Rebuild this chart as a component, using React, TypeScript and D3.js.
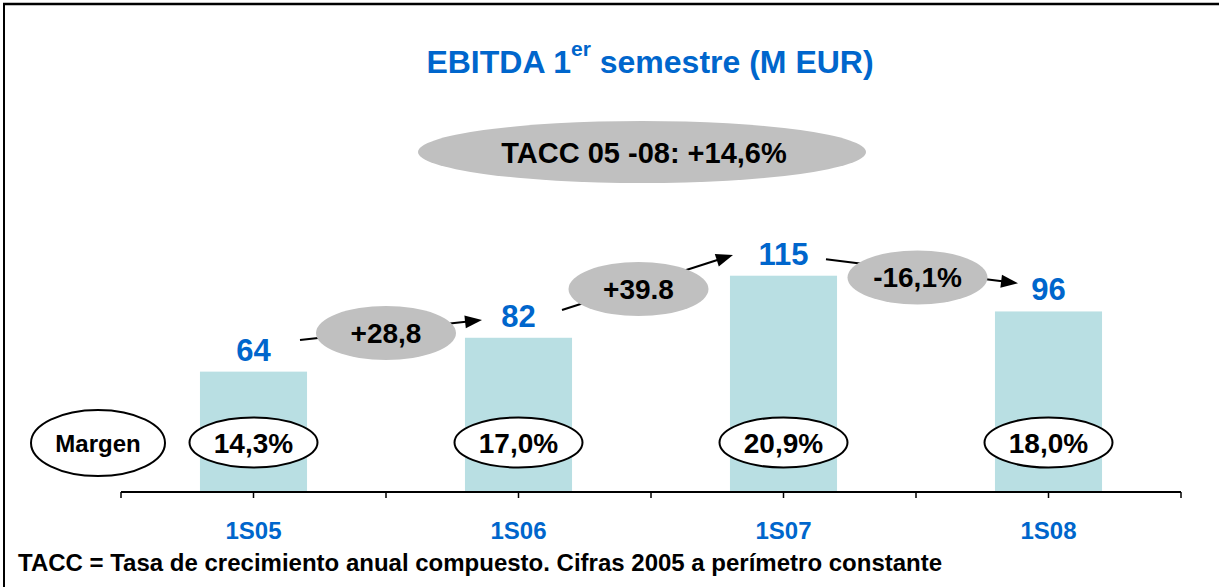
import React from "react";
import * as d3 from "d3";

const categories = ["1S05", "1S06", "1S07", "1S08"];
const ebitda = [64, 82, 115, 96];
const margins = ["14,3%", "17,0%", "20,9%", "18,0%"];
const growthLabels = ["+28,8", "+39.8", "-16,1%"];
const cagrLabel = "TACC 05 -08: +14,6%";
const footnote = "TACC = Tasa de crecimiento anual compuesto. Cifras 2005 a perímetro constante";

// layout tweaks for the growth arrows (offsets from bar centres / bar tops)
const arrowLayout = [
  { x0: 46.5, y0: -31.6, x1: -36.5, y1: -17.8, edx: 0, edy: -21.7 },
  { x0: 43.5, y0: -27.8, x1: -50.5, y1: -20.7, edx: -12.5, edy: -17.7 },
  { x0: 42.5, y0: -16.4, x1: -30.5, y1: -28.1, edx: 1.5, edy: -16.1 },
];

const W = 1219;
const H = 587;
const FONT = "'Liberation Sans', Arial, Helvetica, sans-serif";
const BLUE = "#0066CC";
const BAR = "#B9DFE3";
const GREY = "#C0C0C0";

export default function App() {
  const axisY = 492;
  const x = d3
    .scaleBand<string>()
    .domain(categories)
    .range([121, 1181])
    .paddingInner(0.596)
    .paddingOuter(0.298);
  const y = d3.scaleLinear().domain([0, 260]).range([axisY, 3]);
  const cx = (c: string) => (x(c) as number) + x.bandwidth() / 2;

  const step = x.step();
  const tickXs: number[] = [];
  for (let i = 0; i <= categories.length * 2; i++) tickXs.push(121 + (i * step) / 2);

  const arrowHead = (x0: number, y0: number, x1: number, y1: number) => {
    const a = Math.atan2(y1 - y0, x1 - x0);
    const len = 17;
    const hw = 6.5;
    const bx = x1 - len * Math.cos(a);
    const by = y1 - len * Math.sin(a);
    const px = -Math.sin(a) * hw;
    const py = Math.cos(a) * hw;
    return `${x1},${y1} ${bx + px},${by + py} ${bx - px},${by - py}`;
  };

  const marginY = 442.5;

  return (
    <svg
      width={W}
      height={H}
      style={{ position: "absolute", left: 0, top: 0, background: "#fff" }}
      fontFamily={FONT}
      fontWeight="bold"
    >
      <rect x={0} y={0} width={W} height={H} fill="#fff" />
      {/* frame */}
      <line x1={3} x2={W} y1={4} y2={4} stroke="#000" strokeWidth={2.5} />
      <line x1={4} x2={4} y1={3} y2={H} stroke="#000" strokeWidth={2} />

      {/* title */}
      <text x={650} y={73} textAnchor="middle" fill={BLUE} fontSize={32}>
        EBITDA 1<tspan fontSize={21} dy={-17}>er</tspan>
        <tspan dy={17}> semestre (M EUR)</tspan>
      </text>

      {/* CAGR ellipse */}
      <ellipse cx={642} cy={152} rx={224} ry={31} fill={GREY} />
      <text x={644} y={162.5} textAnchor="middle" fontSize={29} fill="#000">
        {cagrLabel}
      </text>

      {/* bars */}
      {categories.map((c, i) => (
        <rect
          key={c}
          x={x(c)}
          y={y(ebitda[i])}
          width={x.bandwidth()}
          height={axisY - y(ebitda[i])}
          fill={BAR}
        />
      ))}

      {/* value labels */}
      {categories.map((c, i) => (
        <text
          key={c}
          x={cx(c)}
          y={y(ebitda[i]) - 11}
          textAnchor="middle"
          fill={BLUE}
          fontSize={31}
        >
          {ebitda[i]}
        </text>
      ))}

      {/* growth arrows */}
      {growthLabels.map((g, i) => {
        const a = arrowLayout[i];
        const c0 = cx(categories[i]);
        const c1 = cx(categories[i + 1]);
        const x0 = c0 + a.x0;
        const y0 = y(ebitda[i]) + a.y0;
        const x1 = c1 + a.x1;
        const y1 = y(ebitda[i + 1]) + a.y1;
        const ang = Math.atan2(y1 - y0, x1 - x0);
        const lx = x1 - 14 * Math.cos(ang);
        const ly = y1 - 14 * Math.sin(ang);
        const ex = (c0 + c1) / 2 + a.edx;
        const ey = (y(ebitda[i]) + y(ebitda[i + 1])) / 2 + a.edy;
        return (
          <g key={g}>
            <line x1={x0} y1={y0} x2={lx} y2={ly} stroke="#000" strokeWidth={2} />
            <polygon points={arrowHead(x0, y0, x1, y1)} fill="#000" />
            <ellipse cx={ex} cy={ey} rx={70} ry={27} fill={GREY} />
            <text x={ex} y={ey + 10} textAnchor="middle" fontSize={28} fill="#000">
              {g}
            </text>
          </g>
        );
      })}

      {/* margin ellipses */}
      <ellipse cx={98} cy={443} rx={67} ry={33} fill="#fff" stroke="#000" strokeWidth={2} />
      <text x={98} y={451.5} textAnchor="middle" fontSize={24} fill="#000">
        Margen
      </text>
      {categories.map((c, i) => (
        <g key={c}>
          <ellipse cx={cx(c)} cy={marginY} rx={64} ry={25} fill="#fff" stroke="#000" strokeWidth={2} />
          <text x={cx(c)} y={marginY + 10} textAnchor="middle" fontSize={28} fill="#000">
            {margins[i]}
          </text>
        </g>
      ))}

      {/* axis */}
      <line x1={121} x2={1181} y1={axisY} y2={axisY} stroke="#000" strokeWidth={2} />
      {tickXs.map((t, i) => (
        <line key={i} x1={t} x2={t} y1={axisY} y2={axisY + 6} stroke="#000" strokeWidth={1.5} />
      ))}
      {categories.map((c) => (
        <text key={c} x={cx(c)} y={539} textAnchor="middle" fill={BLUE} fontSize={24}>
          {c}
        </text>
      ))}

      {/* footnote */}
      <text x={18} y={571} fontSize={24} fill="#000">
        {footnote}
      </text>
    </svg>
  );
}
